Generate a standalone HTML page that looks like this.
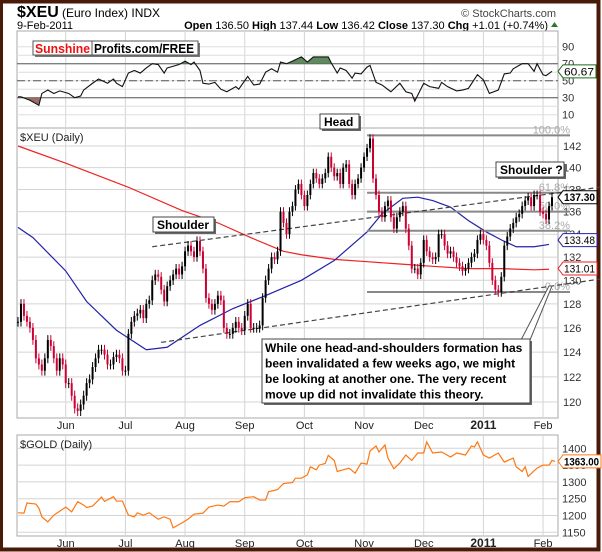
<!DOCTYPE html>
<html><head><meta charset="utf-8"><style>
body{margin:0;background:#fff;width:602px;height:552px;overflow:hidden}
svg{display:block;font-family:"Liberation Sans",sans-serif}
</style></head><body>
<svg id="c" width="602" height="552" viewBox="0 0 602 552"></svg>
<script>
// ---- data ----
const closes=[126.5,128,127,126.5,126,125,123.5,123,122.5,123.5,125,124.5,123.5,122.5,123.5,123,121.5,121.5,120.5,119.5,119.3,119.8,120.5,121.5,121.8,122.8,123.5,124.2,124.2,123.8,123,123,123.6,123.8,123.5,122.5,122.5,125.5,126.5,127,127.2,127.5,126.8,128,128.3,130,130.5,130.3,129.2,128.2,129.5,130,130.5,131,130.5,131.2,132.5,133,132.5,132,133.4,132.5,131,128.5,128,127.5,128,128.7,128.3,126,125.5,125.5,126,126.5,126,125.8,127,128,126,126,126,126.2,128.5,130,131,132,131.8,132.5,136,135,134,136,136.5,138,138.5,
137.5,136.5,137.5,138.5,139.5,139,138.5,139,139.5,141,140,139.2,139.5,138.5,140,140.3,138.5,137.5,138.5,139,140,141,141.8,142.7,139,137.5,136,135.5,136.5,137,135.5,134.5,135.5,136,136.5,134.5,133,131,131,130.5,131.5,133.5,132.5,132,131.8,132,134,134,133,132.3,132.5,132,131.5,131.2,130.8,131,131.5,132,132.3,133.5,134,133.5,133,131.5,130,129.2,129,130.3,133,133.8,134.5,135,135.5,135.8,136.5,137,137.3,136.5,137.5,137.5,136,135.8,135.3,136.5,137.3];
const ma50Days=[0,5,16,23,33,43,50,61,72,83,95,106,117,122,129,134,139,145,151,157,162,167,173,178];
const ma50Vals=[134.6,133.7,130.8,128.2,125.8,124.2,124.4,126.2,127.6,128.7,130.0,131.7,134.2,135.8,137.2,137.3,137.0,136.4,135.2,134.2,133.5,132.9,132.9,133.1];
const ma200Days=[0,16,37,55,67,78,89,95,106,117,128,139,151,162,173,178];
const ma200Vals=[142.0,140.4,138.2,136.1,135.0,133.7,132.5,132.2,131.8,131.6,131.4,131.2,131.0,131.0,130.9,130.95];
const rsiDays=[0,1,4,7,8,10,12,14,17,19,21,22,25,27,30,32,33,35,37,39,41,43,45,47,49,50,52,54,56,58,59,61,62,64,66,68,70,73,74,77,79,81,83,85,87,88,90,92,95,97,99,104,105,107,108,110,112,113,115,117,118,120,122,125,128,130,132,133,136,138,141,142,144,147,149,151,154,156,158,161,163,165,166,169,171,173,174,176,177,179];
const rsiVals=[31,31,27,21,35,39,35,38,35,30,32,39,47,52,47,52,47,43,59,62,59,65,70,69,59,65,67,69,73,69,72,62,47,46,48,40,37,43,40,55,45,46,60,64,60,72,70,73,78,72,78,78,71,59,65,62,53,59,58,66,68,48,45,37,47,37,35,26,47,43,41,48,43,38,39,41,57,51,35,39,58,59,64,70,70,61,70,57,56,61];
const goldDays=[0,2,3,6,7,8,10,12,14,16,18,20,22,23,25,27,28,29,32,33,35,37,39,40,42,44,47,49,51,52,55,57,59,62,64,67,69,71,74,76,79,81,83,84,87,89,92,93,95,97,98,100,101,103,104,106,107,109,111,113,115,117,118,120,121,123,124,126,128,130,132,134,136,137,139,142,145,147,150,152,153,154,156,158,161,163,166,167,169,170,171,173,174,176,178,179,180];
const goldVals=[1208,1207,1237,1234,1222,1196,1181,1201,1213,1225,1211,1241,1231,1224,1228,1246,1255,1242,1256,1243,1243,1201,1196,1208,1201,1208,1189,1196,1189,1163,1178,1189,1204,1207,1225,1231,1228,1241,1241,1253,1256,1246,1246,1271,1277,1295,1298,1311,1311,1321,1345,1336,1350,1355,1379,1364,1331,1336,1341,1326,1356,1353,1392,1407,1389,1410,1371,1339,1356,1380,1364,1386,1386,1419,1386,1389,1374,1386,1380,1407,1404,1419,1380,1371,1386,1359,1371,1345,1331,1345,1316,1333,1341,1350,1350,1364,1361];
const monthLabels=["Jun","Jul","Aug","Sep","Oct","Nov","Dec","2011","Feb"];
const monthDays=[16,36,56,76,96,116,136,156,176];
const priceTicks=[120,122,124,126,128,130,132,134,136,138,140,142];
const rsiTicks=[10,30,50,70,90];
const goldTicks=[1150,1200,1250,1300,1350,1400];
const fibLevels=[143.0,137.7,136.0,134.3,129.0];
const fibLabels=["100.0%","61.8%","50.0%","38.2%","0.0%"];
const upperTrend=[[45,132.9],[195,138.2]];
const lowerTrend=[[48,124.8],[195,130.1]];

// ---- scales ----
const L=17,R=558,N=closes.length;
const xD=d=>18+d*534/(N-1);
const yP=p=>146+1521*Math.log(142/p);
const yR=v=>80.7-(v-50)*0.85;
const yG=v=>448.3+(1400-v)*0.336;
const svg=document.getElementById('c');
const NS='http://www.w3.org/2000/svg';
function mk(tag,attrs,parent){const e=document.createElementNS(NS,tag);for(const k in attrs)e.setAttribute(k,attrs[k]);(parent||svg).appendChild(e);return e;}
function txt(x,y,s,attrs){const t=mk('text',Object.assign({x:x,y:y,'font-size':11,fill:'#222'},attrs||{}));t.textContent=s;return t;}

// border
let e=mk('rect',{x:1,y:1.5,width:597.5,height:548,fill:'none',stroke:'#4a1a08','stroke-width':4});



// header
e=txt(17,17,'$XEU',{'font-size':16,'font-weight':'bold',fill:'#000'});


e=txt(62,17,'(Euro Index)  INDX',{'font-size':12,fill:'#000'});


e=txt(556,17,'© StockCharts.com',{'font-size':11,fill:'#444','text-anchor':'end'});


e=txt(17,29,'9-Feb-2011',{'font-size':11,fill:'#000'});


e=mk('text',{x:548,y:29,'font-size':11,fill:'#000','text-anchor':'end'});
e.innerHTML='<tspan font-weight="bold">Open</tspan> 136.50 <tspan font-weight="bold">High</tspan> 137.44 <tspan font-weight="bold">Low</tspan> 136.42 <tspan font-weight="bold">Close</tspan> 137.30 <tspan font-weight="bold">Chg</tspan> +1.01 (+0.74%)';


e=mk('path',{d:'M551 27 L558 27 L554.5 22 Z',fill:'#2a7a2a'});



// panels
const panels=[[31,128,'rsi-panel'],[128,418,'price-panel'],[435,536,'gold-panel']];
panels.forEach(p=>{const r=mk('rect',{x:L,y:p[0],width:R-L,height:p[1]-p[0],fill:'#fff',stroke:'#aaa'});

});
monthDays.forEach(d=>{panels.forEach(p=>{const l=mk('line',{x1:xD(d),x2:xD(d),y1:p[0],y2:p[1],stroke:'#d4d4d4'});

});});
monthLabels.forEach((m,i)=>{[429,547].forEach(y=>{const t=txt(xD(monthDays[i]),y,m,{'text-anchor':'middle','font-weight':m==='2011'?'bold':'normal','font-size':m==='2011'?12:11,fill:'#222'});

});});

// RSI
for(let v=10;v<=90;v+=10){const l=mk('line',{x1:L,x2:R,y1:yR(v),y2:yR(v),stroke:'#dedede'});

}
rsiTicks.forEach(v=>{const t=txt(562,yR(v)+4,String(v),{fill:'#333'});

});
[70,30].forEach(v=>{const l=mk('line',{x1:L,x2:R,y1:yR(v),y2:yR(v),stroke:'#555'});

});
e=mk('line',{x1:L,x2:R,y1:yR(50),y2:yR(50),stroke:'#555','stroke-dasharray':'8,3,2,3'});


const rsiPts=rsiDays.map((d,i)=>xD(d)+','+yR(rsiVals[i])).join(' ');
const defs=mk('defs',{});
mk('rect',{x:L,y:31,width:R-L,height:yR(70)-31},mk('clipPath',{id:'above70'},defs));
mk('rect',{x:L,y:yR(30),width:R-L,height:128-yR(30)},mk('clipPath',{id:'below30'},defs));
e=mk('polygon',{points:xD(rsiDays[0])+','+yR(70)+' '+rsiPts+' '+xD(rsiDays[rsiDays.length-1])+','+yR(70),fill:'#5e8a5e','clip-path':'url(#above70)'});


e=mk('polygon',{points:xD(rsiDays[0])+','+yR(30)+' '+rsiPts+' '+xD(rsiDays[rsiDays.length-1])+','+yR(30),fill:'#a06a66','clip-path':'url(#below30)'});


e=mk('polyline',{points:rsiPts,fill:'none',stroke:'#111','stroke-width':1.1});



function tag(y,label,col,bold,name,w){const p=mk('path',{d:`M558 ${y} l5 -6.5 h${w} v13 h-${w} Z`,fill:'#fff',stroke:col});


const t=txt(564,y+4,label,{fill:'#000','font-size':11,'font-weight':bold?'bold':'normal',textLength:w-3,lengthAdjust:'spacingAndGlyphs'});

}
tag(yR(rsiVals[rsiVals.length-1]),'60.67','#1a6a1a',false,'rsi-value',33);

// Sunshine box
e=mk('rect',{x:35,y:43,width:165,height:14,fill:'#777'});


e=mk('rect',{x:33,y:41,width:165,height:14,fill:'#fff',stroke:'#555'});


e=mk('line',{x1:92,x2:92,y1:41,y2:55,stroke:'#555'});


e=txt(35,53,'Sunshine',{'font-size':13,'font-weight':'bold',fill:'#ee1111',textLength:55,lengthAdjust:'spacingAndGlyphs'});


e=txt(94,53,'Profits.com/FREE',{'font-size':13,'font-weight':'bold',fill:'#000',textLength:100,lengthAdjust:'spacingAndGlyphs'});



// price grid
priceTicks.forEach(p=>{const l=mk('line',{x1:L,x2:R,y1:yP(p),y2:yP(p),stroke:'#d4d4d4'});


const t=txt(563,yP(p)+4,String(p),{fill:'#333'});

});
e=txt(20,141,'$XEU (Daily)',{fill:'#222'});



e=mk('polyline',{points:ma200Days.map((d,i)=>xD(d)+','+yP(ma200Vals[i])).join(' '),fill:'none',stroke:'#ee2222','stroke-width':1.2});


e=mk('polyline',{points:ma50Days.map((d,i)=>xD(d)+','+yP(ma50Vals[i])).join(' '),fill:'none',stroke:'#2222aa','stroke-width':1.2});



fibLevels.forEach((p,i)=>{const l=mk('line',{x1:xD(117),x2:570,y1:yP(p),y2:yP(p),stroke:'#888','stroke-width':2});


const t=txt(570,yP(p)-2,fibLabels[i],{fill:'#aaa','text-anchor':'end'});

});
[upperTrend,lowerTrend].forEach((tl,i)=>{const l=mk('line',{x1:xD(tl[0][0]),y1:yP(tl[0][1]),x2:xD(tl[1][0]),y2:yP(tl[1][1]),stroke:'#444','stroke-dasharray':'5,3','stroke-width':1.2});

});

// candles
closes.forEach((c,i)=>{const o=i?closes[i-1]:c;const up=c>=o;const col=up?'#000':'#cc0033';
const x=xD(i);const hi=Math.max(o,c)+0.4,lo=Math.min(o,c)-0.4;
const w=mk('line',{x1:x,x2:x,y1:yP(hi),y2:yP(lo),stroke:col});


const top=yP(Math.max(o,c)),bot=yP(Math.min(o,c));
const b=mk('rect',{x:x-1,y:top,width:2,height:Math.max(1,bot-top),fill:col});

});

tag(yP(closes[N-1]),'137.30','#000',true,'last-price',34);
tag(yP(133.48),'133.48','#2222aa',false,'ma50-value',34);
tag(yP(131.01),'131.01','#ee2222',false,'ma200-value',34);

function box(x,y,w,h,s,name){const sh=mk('rect',{x:x+2,y:y+2,width:w,height:h,fill:'#666'});


const r=mk('rect',{x:x,y:y,width:w,height:h,fill:'#fff',stroke:'#444'});


const t=txt(x+4,y+h-3,s,{'font-size':12,'font-weight':'bold',fill:'#000'});

}
box(320,114,39,15,'Head','head-label');
box(153,217,61,15,'Shoulder','shoulder-label');
box(496,162,68,15,'Shoulder ?','shoulder-question-label');
e=mk('polygon',{points:'521,340 530,340 552,286 549,286',fill:'#fff',stroke:'#555'});


e=mk('rect',{x:264,y:341,width:268,height:64,fill:'#666'});


e=mk('rect',{x:262,y:339,width:268,height:64,fill:'#fff',stroke:'#444'});


['While one head-and-shoulders formation has','been invalidated a few weeks ago, we might','be looking at another one. The very recent','move up did not invalidate this theory.'].forEach((s,i)=>{const t=txt(265,352+i*15.5,s,{'font-size':12,'font-weight':'bold',fill:'#000'});

});

// gold
goldTicks.forEach(v=>{const l=mk('line',{x1:L,x2:R,y1:yG(v),y2:yG(v),stroke:'#d4d4d4'});


const t=txt(562,yG(v)+4,String(v),{fill:'#333'});

});
e=txt(20,448,'$GOLD (Daily)',{fill:'#222'});


e=mk('polyline',{points:goldDays.map((d,i)=>xD(d)+','+yG(goldVals[i])).join(' '),fill:'none',stroke:'#ff7711','stroke-width':1.2});


tag(yG(goldVals[goldVals.length-1]),'1363.00','#ff7711',true,'gold-value',38);
</script>
</body></html>
